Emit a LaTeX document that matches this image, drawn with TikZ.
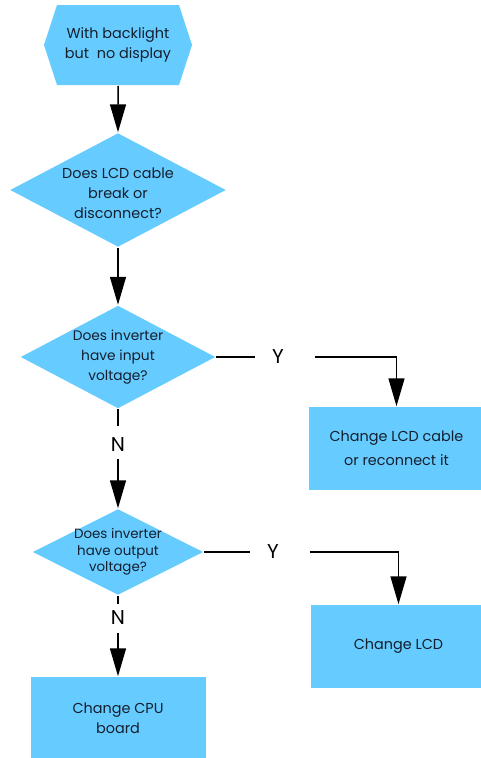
\documentclass[tikz,border=0pt]{standalone}
\usepackage{fontspec}
\setmainfont{Poppins}
\usetikzlibrary{shapes.geometric, shapes.symbols, arrows.meta}
\definecolor{boxblue}{RGB}{102,204,255}
\definecolor{ink}{RGB}{20,30,45}
\newcommand{\bigtext}{\fontsize{14.4}{20}\selectfont}
\newcommand{\smalltext}{\fontsize{13.8}{20}\selectfont}

\begin{document}
\begin{tikzpicture}[x=1pt,y=1pt,->,>={Triangle[width=16pt,length=28pt]},line width=1.5pt,
    start/.style={signal, signal to=east and west, signal pointer angle=144, fill=boxblue,
        minimum width=148pt, minimum height=80pt, inner sep=0pt, text=ink, font=\bigtext, align=center},
    decision/.style={diamond, fill=boxblue, inner sep=0pt},
    question/.style={text=ink, align=center, inner sep=0pt},
    action/.style={rectangle, fill=boxblue, minimum width=175pt, minimum height=83pt,
        inner sep=0pt, text=ink, font=\bigtext, align=center},
    answer/.style={font=\fontsize{20}{20}\selectfont, inner sep=0pt}]

    \useasboundingbox (0,0) rectangle (480,-758);

    \node[start] (hex) at (118,-45) {With backlight\\but~ no display};
    \node[decision, minimum width=216pt, minimum height=114pt, node distance=145pt, below of=hex,
        label={[question, font=\bigtext, yshift=-3pt]center:Does LCD cable\\break or\\disconnect?}] (d1) {};
    \node[decision, minimum width=195pt, minimum height=103pt, node distance=167pt, below of=d1,
        label={[question, font=\smalltext]center:Does inverter\\have input\\voltage?}] (d2) {};
    \node[decision, minimum width=171pt, minimum height=86pt, node distance=195pt, below of=d2,
        label={[question, font=\fontsize{13.4}{16.5}\selectfont]center:Does inverter\\have output\\voltage?}] (d3) {};
    \node[action, node distance=166.5pt, below of=d3] (cpu) {Change CPU\\board};
    \node[action, font=\fontsize{14.4}{24}\selectfont] (cable) at (396.5,-448.5) {Change LCD cable\\or reconnect it};
    \node[action] (lcd) at (398.5,-646.5) {Change LCD};

    \node[answer, node distance=160pt, right of=d2] (y1) {Y};
    \node[answer, node distance=155pt, right of=d3] (y2) {Y};
    \node[answer, node distance=88pt, below of=d2] (n1) {N};
    \node[answer, node distance=66pt, below of=d3] (n2) {N};

    \path
    (hex) edge (d1)
    (d1) edge (d2)
    (d2) edge [-, shorten >=16pt] (y1)
         edge [-, shorten >=11pt] (n1)
    (n1) edge [shorten <=6pt] (d3)
    (d3) edge [-, shorten >=16pt] (y2)
         edge [-, shorten >=6pt] (n2)
    (n2) edge [shorten <=7pt] (cpu)
    ;
    \draw [shorten <=30pt] (y1) -| (cable);
    \draw [shorten <=30pt] (y2) -| (lcd);
\end{tikzpicture}
\end{document}
